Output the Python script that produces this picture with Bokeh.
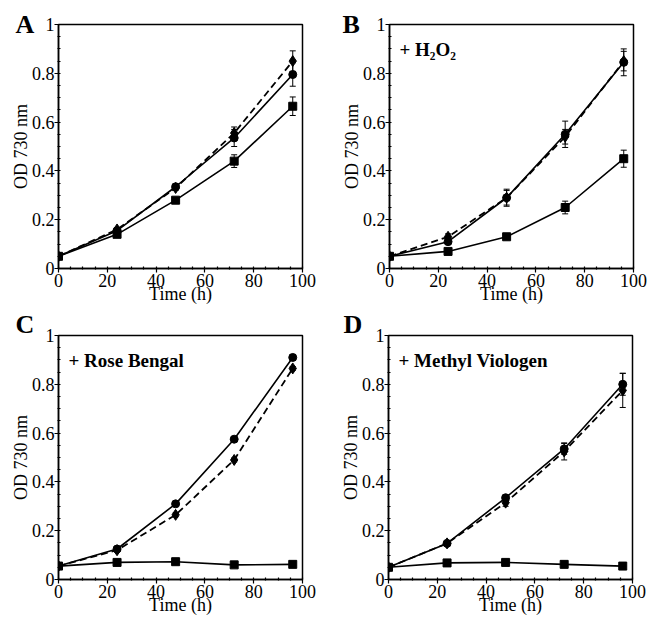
from bokeh.plotting import figure
from bokeh.models import Range1d, FixedTicker, Whisker, TeeHead, ColumnDataSource, Label
from bokeh.layouts import column, row
from bokeh.embed import file_html
from bokeh.resources import INLINE

# ---------------- data ----------------
time_h = [0, 24, 48, 72, 96]

x_ticks = [0, 20, 40, 60, 80, 100]
x_tick_labels = ["0", "20", "40", "60", "80", "100"]
x_minor = [0, 5, 10, 15, 20, 25, 30, 35, 40, 45, 50, 55, 60, 65, 70, 75, 80, 85, 90, 95, 100]
y_ticks = [0, 0.2, 0.4, 0.6, 0.8, 1.0]
y_tick_labels = ["0", "0.2", "0.4", "0.6", "0.8", "1"]
y_minor = [0, 0.05, 0.1, 0.15, 0.2, 0.25, 0.3, 0.35, 0.4, 0.45, 0.5, 0.55, 0.6, 0.65,
           0.7, 0.75, 0.8, 0.85, 0.9, 0.95, 1.0]

panel_letters = ["A", "B", "C", "D"]
panel_notes = ["", "+ H\u2082O\u2082", "+ Rose Bengal", "+ Methyl Viologen"]

# circles (solid line)
a_circ = [0.05, 0.155, 0.335, 0.535, 0.795]
a_circ_err = [0.005, 0.008, 0.01, 0.035, 0.048]
b_circ = [0.05, 0.11, 0.29, 0.55, 0.845]
b_circ_err = [0.005, 0.01, 0.035, 0.054, 0.055]
c_circ = [0.055, 0.125, 0.31, 0.575, 0.91]
c_circ_err = [0.003, 0.005, 0.005, 0.005, 0.012]
d_circ = [0.05, 0.148, 0.335, 0.535, 0.8]
d_circ_err = [0.003, 0.005, 0.01, 0.022, 0.045]

# diamonds (dashed line)
a_diam = [0.05, 0.16, 0.33, 0.555, 0.85]
a_diam_err = [0.005, 0.008, 0.01, 0.025, 0.042]
b_diam = [0.05, 0.13, 0.29, 0.54, 0.85]
b_diam_err = [0.005, 0.012, 0.03, 0.03, 0.04]
c_diam = [0.055, 0.12, 0.265, 0.49, 0.865]
c_diam_err = [0.003, 0.005, 0.008, 0.008, 0.008]
d_diam = [0.05, 0.148, 0.315, 0.525, 0.775]
d_diam_err = [0.003, 0.005, 0.015, 0.035, 0.07]

# squares (solid line)
a_sq = [0.05, 0.14, 0.28, 0.44, 0.665]
a_sq_err = [0.005, 0.006, 0.008, 0.026, 0.038]
b_sq = [0.05, 0.07, 0.13, 0.25, 0.45]
b_sq_err = [0.005, 0.005, 0.008, 0.026, 0.035]
c_sq = [0.055, 0.07, 0.073, 0.06, 0.062]
c_sq_err = [0.003, 0.003, 0.003, 0.003, 0.003]
d_sq = [0.05, 0.068, 0.07, 0.062, 0.055]
d_sq_err = [0.003, 0.003, 0.003, 0.003, 0.003]

SERIF = "Liberation Serif"


def make_panel(letter, note, circ, circ_err, diam, diam_err, sq, sq_err,
               width, height, bl, br, bt, bb, letter_offset, letter_standoff):
    p = figure(width=width, height=height, output_backend="svg", toolbar_location=None,
               x_range=Range1d(0, 100), y_range=Range1d(0, 1), title=letter,
               min_border_left=bl, min_border_right=br, min_border_top=bt, min_border_bottom=bb,
               background_fill_color="white", border_fill_color="white")
    p.title.align = "left"
    p.title.offset = letter_offset
    p.title.standoff = letter_standoff
    p.title.text_font = SERIF
    p.title.text_font_style = "bold"
    p.title.text_font_size = "26px"
    p.title.text_color = "black"

    p.grid.grid_line_color = None
    p.outline_line_color = "black"
    p.outline_line_width = 1.5
    p.outline_line_alpha = 1.0

    p.xaxis.ticker = FixedTicker(ticks=x_ticks, minor_ticks=x_minor)
    p.yaxis.ticker = FixedTicker(ticks=y_ticks, minor_ticks=y_minor)
    p.xaxis.major_label_overrides = dict(zip(x_ticks, x_tick_labels))
    p.yaxis.major_label_overrides = dict(zip(y_ticks, y_tick_labels))
    p.xaxis.axis_label = "Time (h)"
    p.yaxis.axis_label = "OD 730 nm"
    for ax in (p.xaxis, p.yaxis):
        ax.axis_line_width = 1.5
        ax.axis_line_color = "black"
        ax.major_tick_in = 0
        ax.major_tick_out = 4
        ax.major_tick_line_width = 1.2
        ax.minor_tick_in = 2
        ax.minor_tick_out = 1
        ax.minor_tick_line_width = 1.2
        ax.major_label_text_font = SERIF
        ax.major_label_text_font_size = "18px"
        ax.major_label_text_color = "black"
        ax.axis_label_text_font = SERIF
        ax.axis_label_text_font_size = "18px"
        ax.axis_label_text_font_style = "normal"
        ax.axis_label_text_color = "black"
    p.xaxis.major_label_standoff = 1
    p.xaxis.axis_label_standoff = -6
    p.yaxis.major_label_standoff = 0
    p.yaxis.axis_label_standoff = -2

    # error bars
    for vals, errs in ((circ, circ_err), (diam, diam_err), (sq, sq_err)):
        src = ColumnDataSource(dict(x=time_h,
                                    upper=[v + e for v, e in zip(vals, errs)],
                                    lower=[v - e for v, e in zip(vals, errs)]))
        p.add_layout(Whisker(source=src, base="x", upper="upper", lower="lower",
                             line_color="black", line_width=1,
                             upper_head=TeeHead(size=6, line_width=1, line_color="black"),
                             lower_head=TeeHead(size=6, line_width=1, line_color="black")))

    p.line(time_h, diam, line_color="black", line_width=1.8, line_dash="7 4")
    p.line(time_h, circ, line_color="black", line_width=1.6)
    p.line(time_h, sq, line_color="black", line_width=1.6)
    p.scatter(time_h, diam, marker="diamond", size=11, fill_color="black", line_color="black")
    p.scatter(time_h, circ, marker="circle", size=8, fill_color="black", line_color="black")
    p.scatter(time_h, sq, marker="square", size=8, fill_color="black", line_color="black")

    if note:
        p.add_layout(Label(x=0, y=1, x_units="data", y_units="data", text=note,
                           x_offset=10, y_offset=-25,
                           text_font=SERIF, text_font_style="bold", text_font_size="19px",
                           text_color="black", text_baseline="alphabetic", text_align="left"))
    return p


pA = make_panel(panel_letters[0], panel_notes[0], a_circ, a_circ_err, a_diam, a_diam_err,
                a_sq, a_sq_err, 325, 310, 58, 23, 24, 42, -43, -28)
pB = make_panel(panel_letters[1], panel_notes[1], b_circ, b_circ_err, b_diam, b_diam_err,
                b_sq, b_sq_err, 325, 310, 64, 17, 24, 42, -47, -28)
pC = make_panel(panel_letters[2], panel_notes[2], c_circ, c_circ_err, c_diam, c_diam_err,
                c_sq, c_sq_err, 325, 308, 58, 23, 25, 39, -43, -6)
pD = make_panel(panel_letters[3], panel_notes[3], d_circ, d_circ_err, d_diam, d_diam_err,
                d_sq, d_sq_err, 325, 308, 63, 18, 25, 39, -45, -6)

layout = column(row(pA, pB), row(pC, pD))

open("out.html", "w").write(file_html(layout, INLINE))
